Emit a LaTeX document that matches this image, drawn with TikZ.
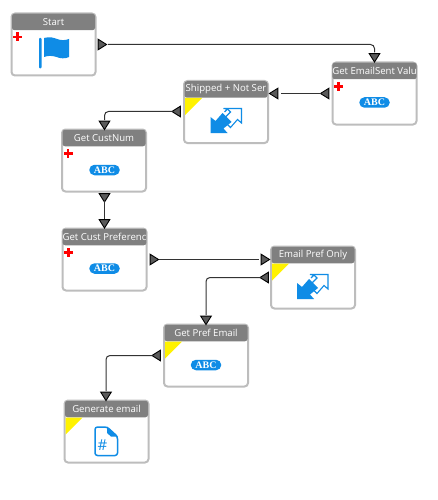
\documentclass[tikz,border=0pt]{standalone}
\usepackage{fontspec}
\setmainfont{Open Sans}
\newfontfamily\abcfont{Liberation Serif}
\usetikzlibrary{shapes.geometric}
\definecolor{iconblue}{HTML}{0F8CE6}
\definecolor{hdrgray}{HTML}{808080}
\definecolor{boxedge}{HTML}{BDBDBD}
\definecolor{portgray}{HTML}{5A5A5A}
\definecolor{wirecol}{HTML}{333333}
\tikzset{
  blockbody/.style={draw=boxedge,line width=2pt,fill=white,rounded corners=3.5pt,minimum width=84pt,minimum height=62pt,inner sep=0pt},
  blockhead/.style={fill=hdrgray,rounded corners=2.5pt,minimum width=83pt,minimum height=16.5pt,inner sep=0pt,text=white,font=\fontsize{9.6}{10}\selectfont},
  port/.style={isosceles triangle,isosceles triangle apex angle=64,draw=black,line width=.9pt,fill=portgray,inner sep=0pt,minimum height=8.5pt,minimum width=9.5pt,shape border rotate=#1},
  wire/.style={draw=wirecol,line width=1pt,rounded corners=4pt},
  pillicon/.style={fill=iconblue,rounded corners=5.2pt,minimum width=30.5pt,minimum height=10.5pt,inner sep=0pt,text=white,font=\abcfont\bfseries\fontsize{10}{10}\selectfont}
}
\newcommand{\blk}[4]{%
  \node[blockbody] (#1) at (#2+42,#3+31) {};
  \node[blockhead] (#1h) at (#2+42,#3+8.5) {#4};
}
\newcommand{\redplus}[2]{%
  \fill[red] (#1-1.3,#2-4.5) rectangle (#1+1.3,#2+4.5);
  \fill[red] (#1-4.5,#2-1.3) rectangle (#1+4.5,#2+1.3);
}
\newcommand{\yellowcorner}[2]{%
  \fill[yellow] (#1+1,#2+17) -- (#1+18,#2+17) -- (#1+1,#2+34) -- cycle;
}
\newcommand{\twoway}[2]{%
  \begin{scope}[shift={(#1,#2)}]
    \fill[iconblue] (0,25) -- (0,9) -- (5,13) -- (12,5) -- (21,14) -- (13,20.5) -- (17,25) -- cycle;
    \draw[iconblue,line width=1.1pt,line join=miter] (14,4) -- (17,1) -- (13,.5) -- (31,.5) -- (31,15) -- (27,11.5) -- (20,19.5) -- (17,16.5);
    \draw[iconblue,line width=1.1pt] (17,1) -- (20,4) -- (14,10);
  \end{scope}
}
\begin{document}
\begin{tikzpicture}[x=1pt,y=-1pt]
\useasboundingbox (0,0) rectangle (438,500);
\fill[white] (0,0) rectangle (438,500);

\blk{start}{11.5}{13.5}{Start}
\blk{getcust}{62}{129.5}{Get CustNum}
\blk{shipped}{184}{81}{Shipped + Not Ser}
\blk{getemail}{332.5}{62.5}{Get EmailSent Valu}
\blk{custpref}{62.5}{228.5}{Get Cust Preferenc}
\blk{emailpref}{271}{246.5}{Email Pref Only}
\blk{prefemail}{164}{324.5}{Get Pref Email}
\blk{genemail}{64.5}{400.5}{Generate email}

% ports
\node[port=0] (p1) at (101,44.5) {};
\node[port=270] (p2) at (374.5,56.5) {};
\node[port=180] (p3) at (326,93.5) {};
\node[port=180] (p4) at (275,93.5) {};
\node[port=180] (p5) at (177.5,111.5) {};
\node[port=270] (p6) at (104.5,124) {};
\node[port=270] (p7) at (104.5,196.5) {};
\node[port=270] (p8) at (104.5,222.5) {};
\node[port=0] (p9) at (153,259.5) {};
\node[port=0] (p10) at (264,259.5) {};
\node[port=180] (p11) at (265.5,277.5) {};
\node[port=270] (p12) at (206,319) {};
\node[port=180] (p13) at (157.5,355.5) {};
\node[port=270] (p14) at (106,395) {};

% connectors
\draw[wire,shorten <=7pt,shorten >=4pt] (p1.center) -| (p2.center);
\draw[wire,shorten <=5pt,shorten >=6pt] (p3.center) -- (p4.center);
\draw[wire,shorten <=5pt,shorten >=4pt] (p5.center) -| (p6.center);
\draw[wire,shorten <=4pt,shorten >=4pt] (p7.center) -- (p8.center);
\draw[wire,line width=.9pt,shorten <=6pt,shorten >=5pt] (p9.center) -- (p10.center);
\draw[wire,shorten <=5pt,shorten >=4pt] (p11.center) -| (p12.center);
\draw[wire,shorten <=5pt,shorten >=4pt] (p13.center) -| (p14.center);

% marks
\redplus{17.5}{37}
\redplus{68}{153.5}
\redplus{338.5}{86.5}
\redplus{68.5}{252.5}
\yellowcorner{184}{81}
\yellowcorner{271}{246.5}
\yellowcorner{164}{324.5}
\yellowcorner{64.5}{400.5}

% flag
\fill[iconblue,rounded corners=1pt] (39,38) rectangle (41.5,68.5);
\fill[iconblue] (44,38) .. controls (50,36.5) and (53,37.5) .. (57,39) .. controls (61,40.5) and (65,40.5) .. (69,39)
  -- (69,57) .. controls (65,59) and (60,58.5) .. (56.5,57) .. controls (52,55.5) and (48,55.5) .. (44,57) -- cycle;

% icons
\twoway{210.5}{108}
\twoway{297}{274}
\node[pillicon] (abc1) at (104.5,170) {ABC};
\node[pillicon] (abc2) at (374.5,102.5) {ABC};
\node[pillicon] (abc3) at (104.5,268.5) {ABC};
\node[pillicon] (abc4) at (206,365) {ABC};

% document icon
\draw[iconblue,line width=1.5pt,rounded corners=2.5pt] (95,427) -- (107,427) -- (117.5,436.5) -- (117.5,455.5) -- (95,455.5) -- cycle;
\fill[iconblue] (107,426.5) -- (118,436.5) -- (111,436.5) -- (107,433) -- cycle;
\node[text=iconblue,font=\fontsize{15}{15}\selectfont,inner sep=0pt] (hash) at (102.5,445) {\#};
\end{tikzpicture}
\end{document}
